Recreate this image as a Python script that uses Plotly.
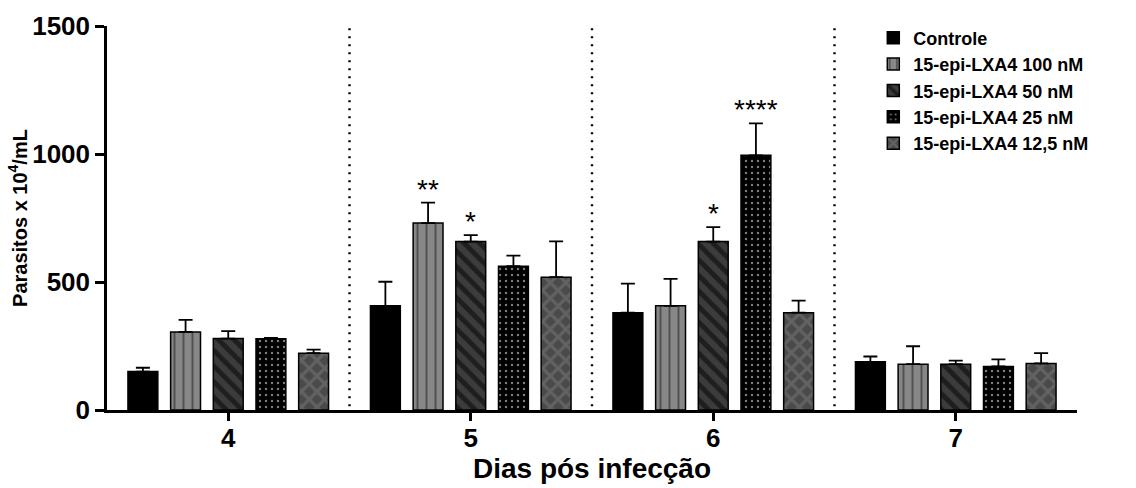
import plotly.graph_objects as go

# Days post infection (x categories)
days = ["4", "5", "6", "7"]

# Parasite counts (x 10^4/mL): mean and upper SEM for each treatment
controle_mean = [150, 407, 380, 188]
controle_err = [15, 94, 114, 21]

lxa100_mean = [305, 730, 407, 179]
lxa100_err = [47, 80, 105, 70]

lxa50_mean = [279, 658, 658, 179]
lxa50_err = [29, 25, 56, 14]

lxa25_mean = [278, 562, 995, 170]
lxa25_err = [4, 41, 125, 28]

lxa12_mean = [222, 519, 380, 182]
lxa12_err = [14, 140, 47, 40]

series_names = [
    "Controle",
    "15-epi-LXA4 100 nM",
    "15-epi-LXA4 50 nM",
    "15-epi-LXA4 25 nM",
    "15-epi-LXA4 12,5 nM",
]
series_means = [controle_mean, lxa100_mean, lxa50_mean, lxa25_mean, lxa12_mean]
series_errs = [controle_err, lxa100_err, lxa50_err, lxa25_err, lxa12_err]

# Significance marks: (series index, day index, label)
significance = [
    (1, 1, "**"),
    (2, 1, "*"),
    (2, 2, "*"),
    (3, 2, "****"),
]

FONT = "Arial, Liberation Sans, sans-serif"

styles = [
    dict(color="#000000", pattern=dict(shape="")),
    dict(color="#878787", pattern=dict(shape="|", fgcolor="#1a1a1a", size=9,
                                       solidity=0.22, fillmode="overlay")),
    dict(color="#3c3c3c", pattern=dict(shape="\\", fgcolor="#000000", size=11,
                                       solidity=0.45, fillmode="overlay")),
    dict(color="#000000", pattern=dict(shape=".", fgcolor="#ffffff", size=6,
                                       solidity=0.12, fillmode="overlay")),
    dict(color="#4a4a4a", pattern=dict(shape="x", fgcolor="#7a7a7a", size=11,
                                       solidity=0.5, fillmode="overlay")),
]

x_idx = list(range(len(days)))

fig = go.Figure()
for name, means, errs, st in zip(series_names, series_means, series_errs, styles):
    fig.add_trace(go.Bar(
        x=x_idx,
        y=means,
        name=name,
        marker=dict(color=st["color"], pattern=st["pattern"],
                    line=dict(color="#000000", width=1.5)),
        error_y=dict(type="data", array=errs, arrayminus=[0] * len(errs),
                     symmetric=False, color="#000000", thickness=1.8, width=7),
    ))

BARGAP = 0.12
n_series = len(series_names)
slot = (1 - BARGAP) / n_series

for s_i, d_i, label in significance:
    xpos = d_i + (s_i - (n_series - 1) / 2) * slot
    ytop = series_means[s_i][d_i] + series_errs[s_i][d_i]
    fig.add_annotation(x=xpos, y=ytop, text=label, showarrow=False,
                       yanchor="bottom", yshift=-4,
                       font=dict(family=FONT, size=28, color="#000000"))

# Dotted separators between days
for k in range(len(days) - 1):
    fig.add_shape(type="line", xref="x", yref="paper",
                  x0=k + 0.5, x1=k + 0.5, y0=0.01, y1=1.01,
                  line=dict(color="#000000", width=2.4, dash="2px,6px"))

fig.update_layout(
    width=1136, height=488,
    margin=dict(l=107, r=59, t=26, b=78),
    paper_bgcolor="#ffffff", plot_bgcolor="#ffffff",
    barmode="group", bargap=BARGAP, bargroupgap=0.30,
    font=dict(family=FONT, color="#000000"),
    showlegend=True,
    legend=dict(x=0.79, y=1.017, xanchor="left", yanchor="top",
                bgcolor="rgba(0,0,0,0)", borderwidth=0,
                font=dict(family=FONT, size=18, color="#000000", weight="bold"),
                itemwidth=30, tracegroupgap=0),
    xaxis=dict(
        range=[-0.5, len(days) - 0.5], automargin=False,
        tickmode="array", tickvals=x_idx, ticktext=days,
        showline=True, linecolor="#000000", linewidth=2.5,
        ticks="outside", ticklen=8, tickwidth=2.5, tickcolor="#000000",
        ticklabelstandoff=-5,
        showgrid=False, zeroline=False,
        tickfont=dict(family=FONT, size=26, color="#000000", weight="bold"),
        title=dict(text="Dias pós infecção", standoff=2,
                   font=dict(family=FONT, size=28, color="#000000", weight="bold")),
    ),
    yaxis=dict(
        range=[0, 1500], automargin=False,
        tickmode="array", tickvals=[0, 500, 1000, 1500],
        showline=True, linecolor="#000000", linewidth=2.5,
        ticks="outside", ticklen=9, tickwidth=2.5, tickcolor="#000000",
        showgrid=False, zeroline=False,
        tickfont=dict(family=FONT, size=26, color="#000000", weight="bold"),
        title=dict(text="Parasitos x 10<sup>4</sup>/mL", standoff=0,
                   font=dict(family=FONT, size=20, color="#000000", weight="bold")),
    ),
)

fig.write_html("out.html")
